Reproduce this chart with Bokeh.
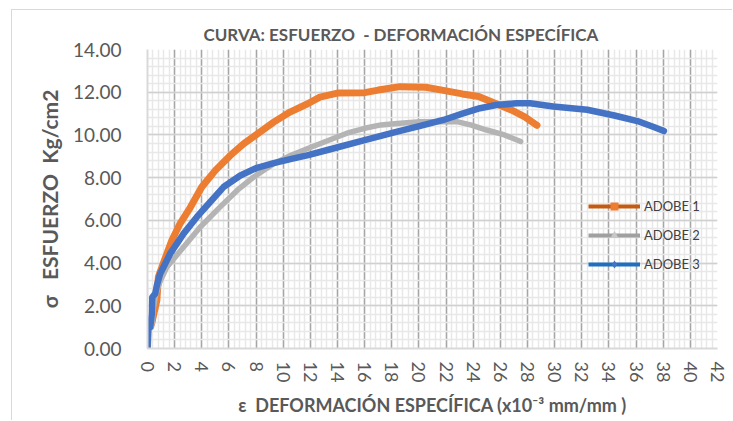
from bokeh.plotting import figure
from bokeh.models import (Range1d, SingleIntervalTicker, Legend, LegendItem,
                          PrintfTickFormatter)
from bokeh.embed import file_html
from bokeh.resources import INLINE

# ---------------- data ----------------
adobe1_x = [0, 0.05, 0.3, 0.69, 0.8, 1.2, 1.8, 2.4, 3.15, 4.0, 5.0, 6.1, 7.1, 8.1,
            9.3, 10.5, 11.8, 12.7, 14.0, 16.0, 17.0, 18.6, 20.5, 21.7, 23.2, 24.4,
            25.6, 26.8, 27.8, 28.7]
adobe1_y = [0, 1.0, 1.15, 2.26, 3.35, 4.05, 5.07, 5.85, 6.6, 7.56, 8.34, 9.04, 9.59,
            10.05, 10.6, 11.07, 11.46, 11.77, 11.96, 11.98, 12.1, 12.26, 12.23, 12.1,
            11.92, 11.8, 11.48, 11.17, 10.85, 10.45]

adobe2_x = [0, 0.05, 0.3, 0.45, 0.6, 0.9, 1.43, 2.66, 3.89, 5.36, 6.6, 7.82, 9.3,
            10.53, 11.76, 13.97, 14.7, 16.0, 17.2, 18.4, 20.1, 21.6, 22.8, 23.8,
            25.0, 26.3, 27.5]
adobe2_y = [0, 0.9, 1.0, 1.95, 2.5, 3.1, 3.82, 4.75, 5.69, 6.63, 7.4, 8.03, 8.65,
            9.04, 9.35, 9.9, 10.08, 10.31, 10.47, 10.54, 10.62, 10.62, 10.62, 10.47,
            10.23, 10.0, 9.69]

adobe3_x = [0, 0.05, 0.2, 0.32, 0.35, 0.57, 0.69, 0.93, 1.67, 2.66, 3.64, 4.62, 5.6,
            6.84, 8.07, 9.3, 10.53, 11.76, 13.47, 16.0, 18.4, 20.1, 21.8, 23.2, 24.5,
            25.7, 27.2, 28.2, 29.9, 32.4, 34.4, 36.1, 37.3, 38.05]
adobe3_y = [0, 0.95, 1.0, 1.65, 2.4, 2.57, 2.96, 3.5, 4.44, 5.38, 6.16, 6.86, 7.56,
            8.1, 8.46, 8.68, 8.87, 9.04, 9.33, 9.76, 10.15, 10.42, 10.7, 11.0, 11.25,
            11.4, 11.48, 11.48, 11.33, 11.18, 10.91, 10.65, 10.37, 10.18]

series_names = ["ADOBE 1", "ADOBE 2", "ADOBE 3"]
NB = "\u00a0"
title_text = "CURVA: ESFUERZO" + NB + NB + "- DEFORMACIÓN ESPECÍFICA"
x_label = "ε" + NB + NB + "DEFORMACIÓN ESPECÍFICA (x10⁻³ mm/mm )"
y_label = "σ" + NB + NB + NB + "ESFUERZO" + NB + NB + "Kg/cm2"

FONT = "Lato"
TXT = "#595959"

p = figure(width=721, height=411, output_backend="svg", toolbar_location=None,
           x_range=Range1d(0, 42), y_range=Range1d(0, 14),
           min_border_left=135, min_border_right=16, min_border_top=39,
           min_border_bottom=73, title=title_text)
p.styles = {"margin-left": "11px", "margin-top": "9px",
            "border-left": "1px solid #d9d9d9", "border-top": "1px solid #d9d9d9"}

p.title.align = "left"
p.title.offset = 56
p.title.text_font = FONT
p.title.text_font_size = "17px"
p.title.text_font_style = "bold"
p.title.text_color = TXT

p.outline_line_color = None
p.background_fill_color = "white"
p.border_fill_color = "white"

p.xaxis.ticker = SingleIntervalTicker(interval=2, num_minor_ticks=5)
p.yaxis.ticker = SingleIntervalTicker(interval=2, num_minor_ticks=5)
p.yaxis.formatter = PrintfTickFormatter(format="%.2f")

for ax in (p.xaxis, p.yaxis):
    ax.major_tick_line_color = None
    ax.minor_tick_line_color = None
    ax.axis_line_color = "#d9d9d9"
    ax.axis_line_width = 2
    ax.major_label_text_font = FONT
    ax.major_label_text_font_size = "18px"
    ax.major_label_text_color = TXT
    ax.axis_label_text_font = FONT
    ax.axis_label_text_font_style = "bold"
    ax.axis_label_text_color = TXT

p.yaxis.major_label_text_font_size = "19px"
p.xaxis.major_label_orientation = "vertical"
p.xaxis.major_label_standoff = 7
p.yaxis.major_label_standoff = 20
p.xaxis.axis_label = x_label
p.yaxis.axis_label = y_label
p.xaxis.axis_label_text_font_size = "18px"
p.yaxis.axis_label_text_font_size = "21px"
p.xaxis.axis_label_standoff = 9
p.yaxis.axis_label_standoff = 8

p.xgrid.grid_line_color = "#a6a6a6"
p.xgrid.grid_line_width = 1.5
p.ygrid.grid_line_color = "#d0d0d0"
p.ygrid.grid_line_width = 1.5
for g in (p.xgrid, p.ygrid):
    g.minor_grid_line_color = "#e8e8e8"
    g.minor_grid_line_width = 1.5

r1 = p.line(adobe1_x, adobe1_y, line_color="#ED7D31", line_width=7,
            line_join="round", line_cap="round")
r2 = p.line(adobe2_x, adobe2_y, line_color="#B4B4B4", line_width=5.5,
            line_join="round", line_cap="round")
r3 = p.line(adobe3_x, adobe3_y, line_color="#4472C4", line_width=6.5,
            line_join="round", line_cap="round")

# legend proxies (one point far outside the visible ranges) to mimic Excel legend styling
off = [-100]
l1 = p.line(off, off, line_color="#C55A11", line_width=4)
m1 = p.scatter(off, off, marker="square", size=8, fill_color="#ED7D31", line_color=None)
l2 = p.line(off, off, line_color="#A0A0A0", line_width=4)
m2 = p.scatter(off, off, marker="triangle", size=8, fill_color="#C8C8C8", line_color=None)
l3 = p.line(off, off, line_color="#1F6FC0", line_width=4)
m3 = p.scatter(off, off, marker="diamond", size=9, fill_color="#4472C4", line_color=None)

legend = Legend(items=[LegendItem(label=series_names[0], renderers=[l1, m1]),
                       LegendItem(label=series_names[1], renderers=[l2, m2]),
                       LegendItem(label=series_names[2], renderers=[l3, m3])],
                location=(441, 74))
legend.border_line_color = None
legend.background_fill_alpha = 0
legend.padding = 0
legend.margin = 0
legend.spacing = 9
legend.glyph_width = 52
legend.glyph_height = 20
legend.label_height = 20
legend.label_standoff = 4
legend.label_text_font = FONT
legend.label_text_font_size = "13px"
legend.label_text_color = "#404040"
p.add_layout(legend, "center")

open("out.html", "w").write(file_html(p, INLINE))
